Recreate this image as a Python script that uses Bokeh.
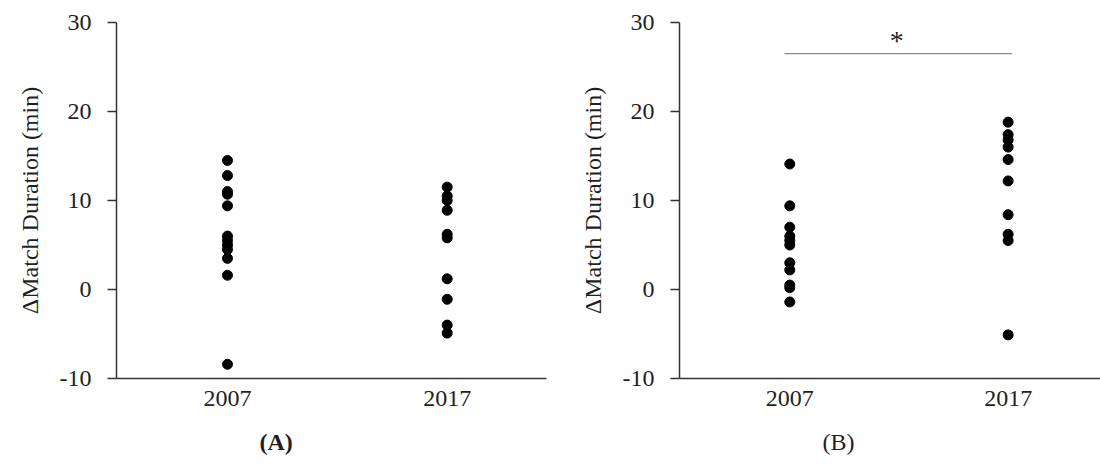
from bokeh.plotting import figure
from bokeh.layouts import row
from bokeh.models import FixedTicker, Label, Range1d, Title
from bokeh.embed import file_html
from bokeh.resources import INLINE

# ---- data ----
categories = ["2007", "2017"]
a_2007 = [14.5, 12.8, 11.0, 10.7, 9.4, 6.0, 5.5, 5.0, 4.5, 3.5, 1.6, -8.4]
a_2017 = [11.5, 10.5, 10.0, 8.9, 6.2, 5.8, 1.2, -1.1, -4.0, -4.9]
b_2007 = [14.1, 9.4, 7.0, 6.0, 5.5, 5.0, 3.0, 2.2, 0.5, 0.2, -1.4]
b_2017 = [18.8, 17.4, 16.8, 16.0, 14.6, 12.2, 8.4, 6.2, 5.5, -5.1]
y_ticks = [-10, 0, 10, 20, 30]
y_title = "ΔMatch Duration (min)"
captions = ["(A)", "(B)"]
sig_level = 26.5
sig_mark = "*"

FONT = "Liberation Serif"
TXT = "#1f1f1f"
AX = "#333333"
FS = "24px"
H = 475


def panel(s2007, s2017, width, bl, br, xs, xe, caption, bold, sig=False):
    p = figure(width=width, height=H, x_range=Range1d(xs, xe), y_range=Range1d(-10, 30),
               output_backend="svg", toolbar_location=None,
               min_border_left=bl, min_border_right=br, min_border_top=22,
               min_border_bottom=H - 378)
    p.outline_line_color = None
    p.grid.visible = False
    p.background_fill_color = "white"
    p.border_fill_color = "white"

    ya = p.yaxis[0]
    ya.ticker = FixedTicker(ticks=y_ticks)
    ya.major_label_overrides = {t: str(t) for t in y_ticks}
    ya.major_tick_in = 0
    ya.major_tick_out = 9
    ya.minor_tick_in = 0
    ya.minor_tick_out = 0
    ya.major_label_standoff = 16
    ya.axis_line_color = AX
    ya.axis_line_width = 1.5
    ya.major_tick_line_color = AX
    ya.major_tick_line_width = 1.5
    ya.major_label_text_font = FONT
    ya.major_label_text_font_size = FS
    ya.major_label_text_color = TXT
    ya.axis_label = y_title
    ya.axis_label_text_font = FONT
    ya.axis_label_text_font_size = FS
    ya.axis_label_text_font_style = "normal"
    ya.axis_label_text_color = TXT
    ya.axis_label_standoff = 14

    xa = p.xaxis[0]
    xa.ticker = FixedTicker(ticks=[1, 2])
    xa.major_label_overrides = {i + 1: c for i, c in enumerate(categories)}
    xa.major_tick_in = 0
    xa.major_tick_out = 0
    xa.minor_tick_in = 0
    xa.minor_tick_out = 0
    xa.major_label_standoff = 12
    xa.axis_line_color = AX
    xa.axis_line_width = 1.5
    xa.major_label_text_font = FONT
    xa.major_label_text_font_size = FS
    xa.major_label_text_color = TXT

    p.scatter([1] * len(s2007), s2007, size=10, color="black")
    p.scatter([2] * len(s2017), s2017, size=10, color="black")

    if sig:
        p.line([0.976, 2.018], [sig_level, sig_level], line_color="#8a8a8a", line_width=1.2)
        p.add_layout(Label(x=1.49, y=sig_level + 1.5, text=sig_mark, text_align="center",
                           text_baseline="middle", text_font=FONT, text_font_size="28px",
                           text_color=TXT))

    p.add_layout(Title(text=caption, align="left", offset=143, standoff=37,
                       text_font=FONT, text_font_size=FS,
                       text_font_style="bold" if bold else "normal", text_color=TXT), "below")
    return p


pA = panel(a_2007, a_2017, 560, 116, 14, 0.4948, 2.452, captions[0], True)
pB = panel(b_2007, b_2017, 540, 119, 0, 0.495, 2.423, captions[1], False, sig=True)

layout = row(pA, pB)
open("out.html", "w").write(file_html(layout, INLINE))
